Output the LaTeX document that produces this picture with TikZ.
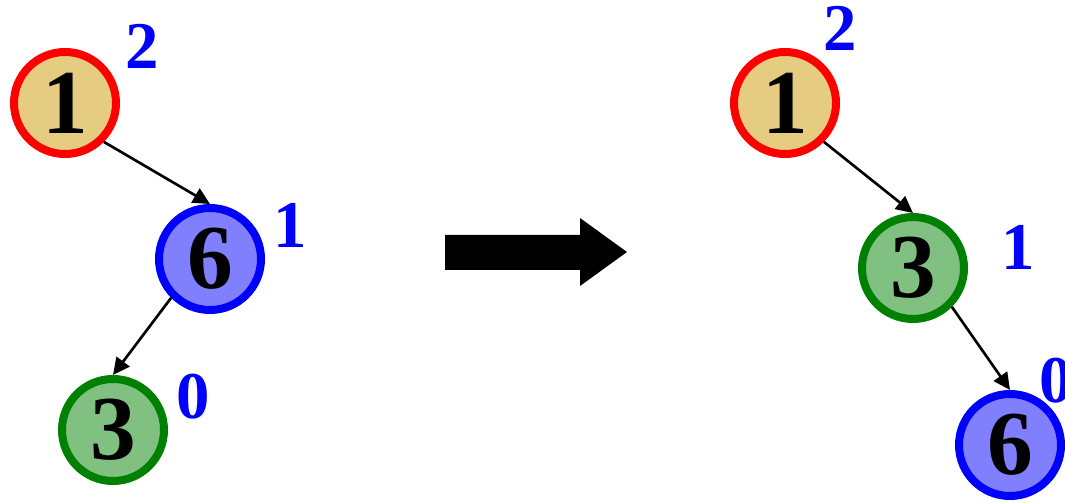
\documentclass[tikz,border=0pt]{standalone}
\usepackage{fontspec}
\setmainfont{Liberation Serif}
\usetikzlibrary{arrows.meta}

\definecolor{goldfill}{RGB}{230,204,128}
\definecolor{bluefill}{RGB}{128,128,255}
\definecolor{greenfill}{RGB}{128,192,128}
\definecolor{treegreen}{RGB}{0,128,0}

\tikzset{
 key/.style={circle,inner sep=0pt,minimum size=1.02cm,line width=0.08cm,
   font=\fontsize{26}{26}\selectfont\bfseries},
 redkey/.style={key,draw=red,fill=goldfill},
 bluekey/.style={key,draw=blue,fill=bluefill},
 greenkey/.style={key,draw=treegreen,fill=greenfill},
 height/.style={text=blue,inner sep=0pt,font=\fontsize{19}{19}\selectfont\bfseries},
 link/.style={line width=0.75pt,-{Triangle[length=4.8pt,width=4.6pt]}}
}

\begin{document}
\begin{tikzpicture}
 \useasboundingbox (0,0) rectangle (10.65,5.02);

 % before
 \node[redkey]   (L1) at (0.65,3.99) {1};
 \node[bluekey]  (L6) at (2.10,2.43) {6};
 \node[greenkey] (L3) at (1.13,0.72) {3};
 \node[height] (hL1) at (1.42,4.56) {2};
 \node[height] (hL6) at (2.90,2.77) {1};
 \node[height] (hL3) at (1.93,1.05) {0};
 \draw[link] (L1.south east) -- (L6.north);
 \draw[link] (L6.south west) -- (L3.north);

 % big arrow
 \fill (4.45,2.32) -- (5.80,2.32) -- (5.80,2.16) -- (6.27,2.50)
   -- (5.80,2.84) -- (5.80,2.67) -- (4.45,2.67) -- cycle;

 % after
 \node[redkey]   (R1) at (7.85,3.99) {1};
 \node[greenkey] (R3) at (9.13,2.34) {3};
 \node[bluekey]  (R6) at (10.10,0.57) {6};
 \node[height] (hR1) at (8.40,4.74) {2};
 \node[height] (hR3) at (10.18,2.55) {1};
 \node[height] (hR6) at (10.56,1.21) {0};
 \draw[link] (R1.south east) -- (R3.north);
 \draw[link] (R3.south east) -- (R6.north);
\end{tikzpicture}
\end{document}
